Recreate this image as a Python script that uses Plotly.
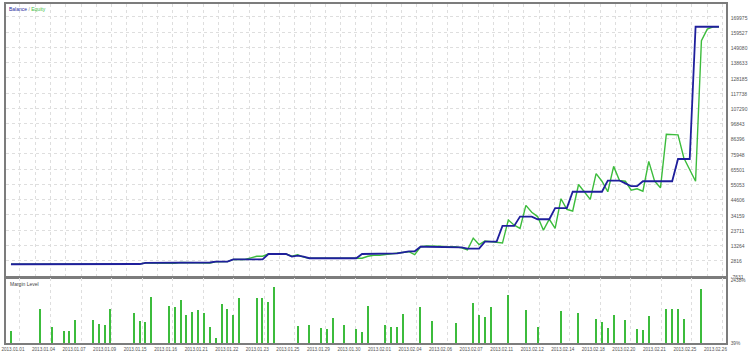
import plotly.graph_objects as go

# ---------------- data ----------------
balance = (
    [300] * 5 + [350] * 6 + [400] * 6 + [450] * 6          # 0-22
    + [1200] * 6 + [1500] * 6                               # 23-34
    + [2100] * 3 + [3600] * 6                               # 35-43
    + [7340] * 4 + [5500, 6190, 5500]                       # 44-50
    + [4420] * 9 + [7340] * 6                               # 51-65
    + [7820, 8500, 9180, 9180]                              # 66-69
    + [12310] * 6 + [11900] * 2 + [11000] * 3               # 70-80
    + [15800] * 3 + [26600] * 3 + [33000] * 3               # 81-89
    + [31160] * 3 + [38850] * 3 + [50020] * 6               # 90-101
    + [57710] * 3 + [55800] + [53830] * 2                   # 102-107
    + [57230] * 6 + [72480] * 3 + [163200] * 5              # 108-121
)

equity = (
    [300] * 5 + [350, 350, 150, 250, 350, 350] + [400] * 6 + [450] * 6   # 0-22
    + [1200, 1200, 1200, 900, 800, 1000] + [1500] * 5 + [1200]           # 23-34
    + [1900, 2100, 2100] + [3600, 3600, 3600, 4700, 5780, 5780]           # 35-43
    + [7340] * 4 + [5800, 6860, 5200]                                     # 44-50
    + [4420] * 10 + [5780, 6480, 6480, 6900, 7340]                        # 51-65
    + [7820, 8500, 8900, 6860]                                            # 66-69
    + [12310, 12800, 12990, 12700, 12500, 12310, 12310, 11500, 10070]     # 70-78
    + [18230, 13800, 16200, 15710, 15400, 14830]                          # 79-84
    + [30690, 27080, 24830, 40690, 36000, 33000, 23680, 31160, 24830]     # 85-93
    + [45250, 37970, 36810, 54990, 50000, 44780, 62470, 57230, 50020]     # 94-102
    + [67440, 57710, 57230, 51100, 52060, 50430, 70840, 57230, 52740]     # 103-111
    + [89490, 89010, 89010, 73160, 65000, 57230]                          # 112-117
    + [153660, 161600, 163200, 163200]                                    # 118-121
)

trade_index = list(range(len(balance)))

margin_points = [0, 5, 7, 9, 10, 11, 14, 15, 16, 17, 21, 22, 23, 24, 27, 28, 29, 30,
                 31, 32, 33, 34, 35, 36, 37, 38, 39, 42, 43, 44, 45, 49, 51, 53, 54,
                 55, 57, 59, 60, 61, 64, 65, 66, 67, 70, 72, 76, 79, 80, 81, 82, 85,
                 88, 90, 94, 97, 100, 101, 102, 103, 105, 107, 108, 109, 112, 113,
                 114, 115, 118]
margin_levels = [519, 1367, 666, 519, 519, 925, 925, 777, 740, 1367, 1183, 888, 851,
                 1810, 1478, 1441, 1700, 1109, 1257, 1331, 1183, 666, 224, 1552, 1367,
                 1109, 1773, 1773, 1773, 1626, 2216, 703, 740, 629, 593, 998, 740, 593,
                 482, 1478, 740, 666, 666, 1146, 1441, 888, 814, 1589, 1109, 1050, 1441,
                 1884, 1331, 666, 1294, 1183, 962, 851, 629, 1109, 925, 593, 556, 1072,
                 1367, 1367, 1367, 962, 2142]

y_ticks = [-7631, 2816, 13264, 23711, 34159, 44606, 55053, 65501, 75948, 86396,
           96843, 107290, 117738, 128185, 138633, 149080, 159527, 169975]

date_labels = ["2013.01.01", "2013.01.04", "2013.01.07", "2013.01.09", "2013.01.15",
               "2013.01.16", "2013.01.21", "2013.01.22", "2013.01.23", "2013.01.25",
               "2013.01.29", "2013.01.30", "2013.02.01", "2013.02.04", "2013.02.06",
               "2013.02.07", "2013.02.11", "2013.02.12", "2013.02.14", "2013.02.18",
               "2013.02.20", "2013.02.21", "2013.02.25", "2013.02.26"]

margin_min, margin_max = 39, 2438

# ---------------- styling ----------------
BLUE = "#1f1f9c"
GREEN = "#3cbc3c"
BORDER = "#7c7c7c"
GRID = "#dedede"
TXT = "#555555"
FONT = "Liberation Sans"

label_step = 5.22
label_pos = [0.34 + label_step * k for k in range(len(date_labels))]
x_range = [-0.85, 122.2]

fig = go.Figure()
fig.add_trace(go.Scatter(x=trade_index, y=equity, mode="lines",
                         line=dict(color=GREEN, width=1.4), name="Equity",
                         xaxis="x", yaxis="y"))
fig.add_trace(go.Scatter(x=trade_index, y=balance, mode="lines",
                         line=dict(color=BLUE, width=1.8), name="Balance",
                         xaxis="x", yaxis="y"))
fig.add_trace(go.Bar(x=margin_points, y=margin_levels, width=0.2,
                     marker=dict(color=GREEN, line=dict(width=0)),
                     name="Margin Level", xaxis="x2", yaxis="y2"))

axis_common = dict(showline=True, mirror=True, linecolor=BORDER, linewidth=1.5,
                   zeroline=False, ticks="")

fig.update_layout(
    width=750, height=354,
    margin=dict(l=3, r=21, t=2, b=9),
    paper_bgcolor="white", plot_bgcolor="white",
    showlegend=False, bargap=0,
    font=dict(family=FONT, size=5, color=TXT),
    xaxis=dict(domain=[0, 1], anchor="y", range=x_range,
               tickmode="linear", tick0=1.53, dtick=2.61,
               showticklabels=False, showgrid=True, gridcolor=GRID,
               griddash="dot", gridwidth=1, **axis_common),
    yaxis=dict(domain=[0.1953, 1], anchor="x", side="right",
               range=[-8309, 178819], tickmode="array",
               tickvals=y_ticks, ticktext=[str(v) for v in y_ticks],
               showgrid=True, gridcolor=GRID, griddash="dot", gridwidth=1,
               tickfont=dict(size=5, color=TXT, family=FONT),
               ticklabelstandoff=2, ticklabelshift=1, **axis_common),
    xaxis2=dict(domain=[0, 1], anchor="y2", range=x_range,
                tickmode="array", tickvals=label_pos, ticktext=date_labels,
                showgrid=False, ticklabeloverflow="allow",
                minor=dict(tickmode="linear", tick0=1.53, dtick=label_step,
                           showgrid=True, gridcolor=GRID, griddash="dot", gridwidth=1),
                tickfont=dict(size=4.6, color=TXT, family=FONT),
                ticklabelstandoff=1, **axis_common),
    yaxis2=dict(domain=[0, 0.1924], anchor="x2", side="right",
                range=[margin_min, margin_max + 110], tickmode="array",
                tickvals=[margin_min, margin_max],
                ticktext=[f"{margin_min}%", f"{margin_max}%"],
                showgrid=False, tickfont=dict(size=4.8, color=TXT, family=FONT),
                ticklabelstandoff=2, **axis_common),
    annotations=[
        dict(xref="paper", yref="paper", x=0, y=1, xanchor="left", yanchor="top",
             xshift=1, yshift=0, showarrow=False,
             text=f'<span style="color:{BLUE}">Balance</span>'
                  f'<span style="color:#888"> / </span>'
                  f'<span style="color:{GREEN}">Equity</span>',
             font=dict(size=5, family=FONT)),
        dict(xref="paper", yref="paper", x=0, y=0.1924, xanchor="left", yanchor="top",
             xshift=2, yshift=-1, showarrow=False, text="Margin Level",
             font=dict(size=5, family=FONT, color="#444")),
    ],
)

fig.write_html("out.html")
